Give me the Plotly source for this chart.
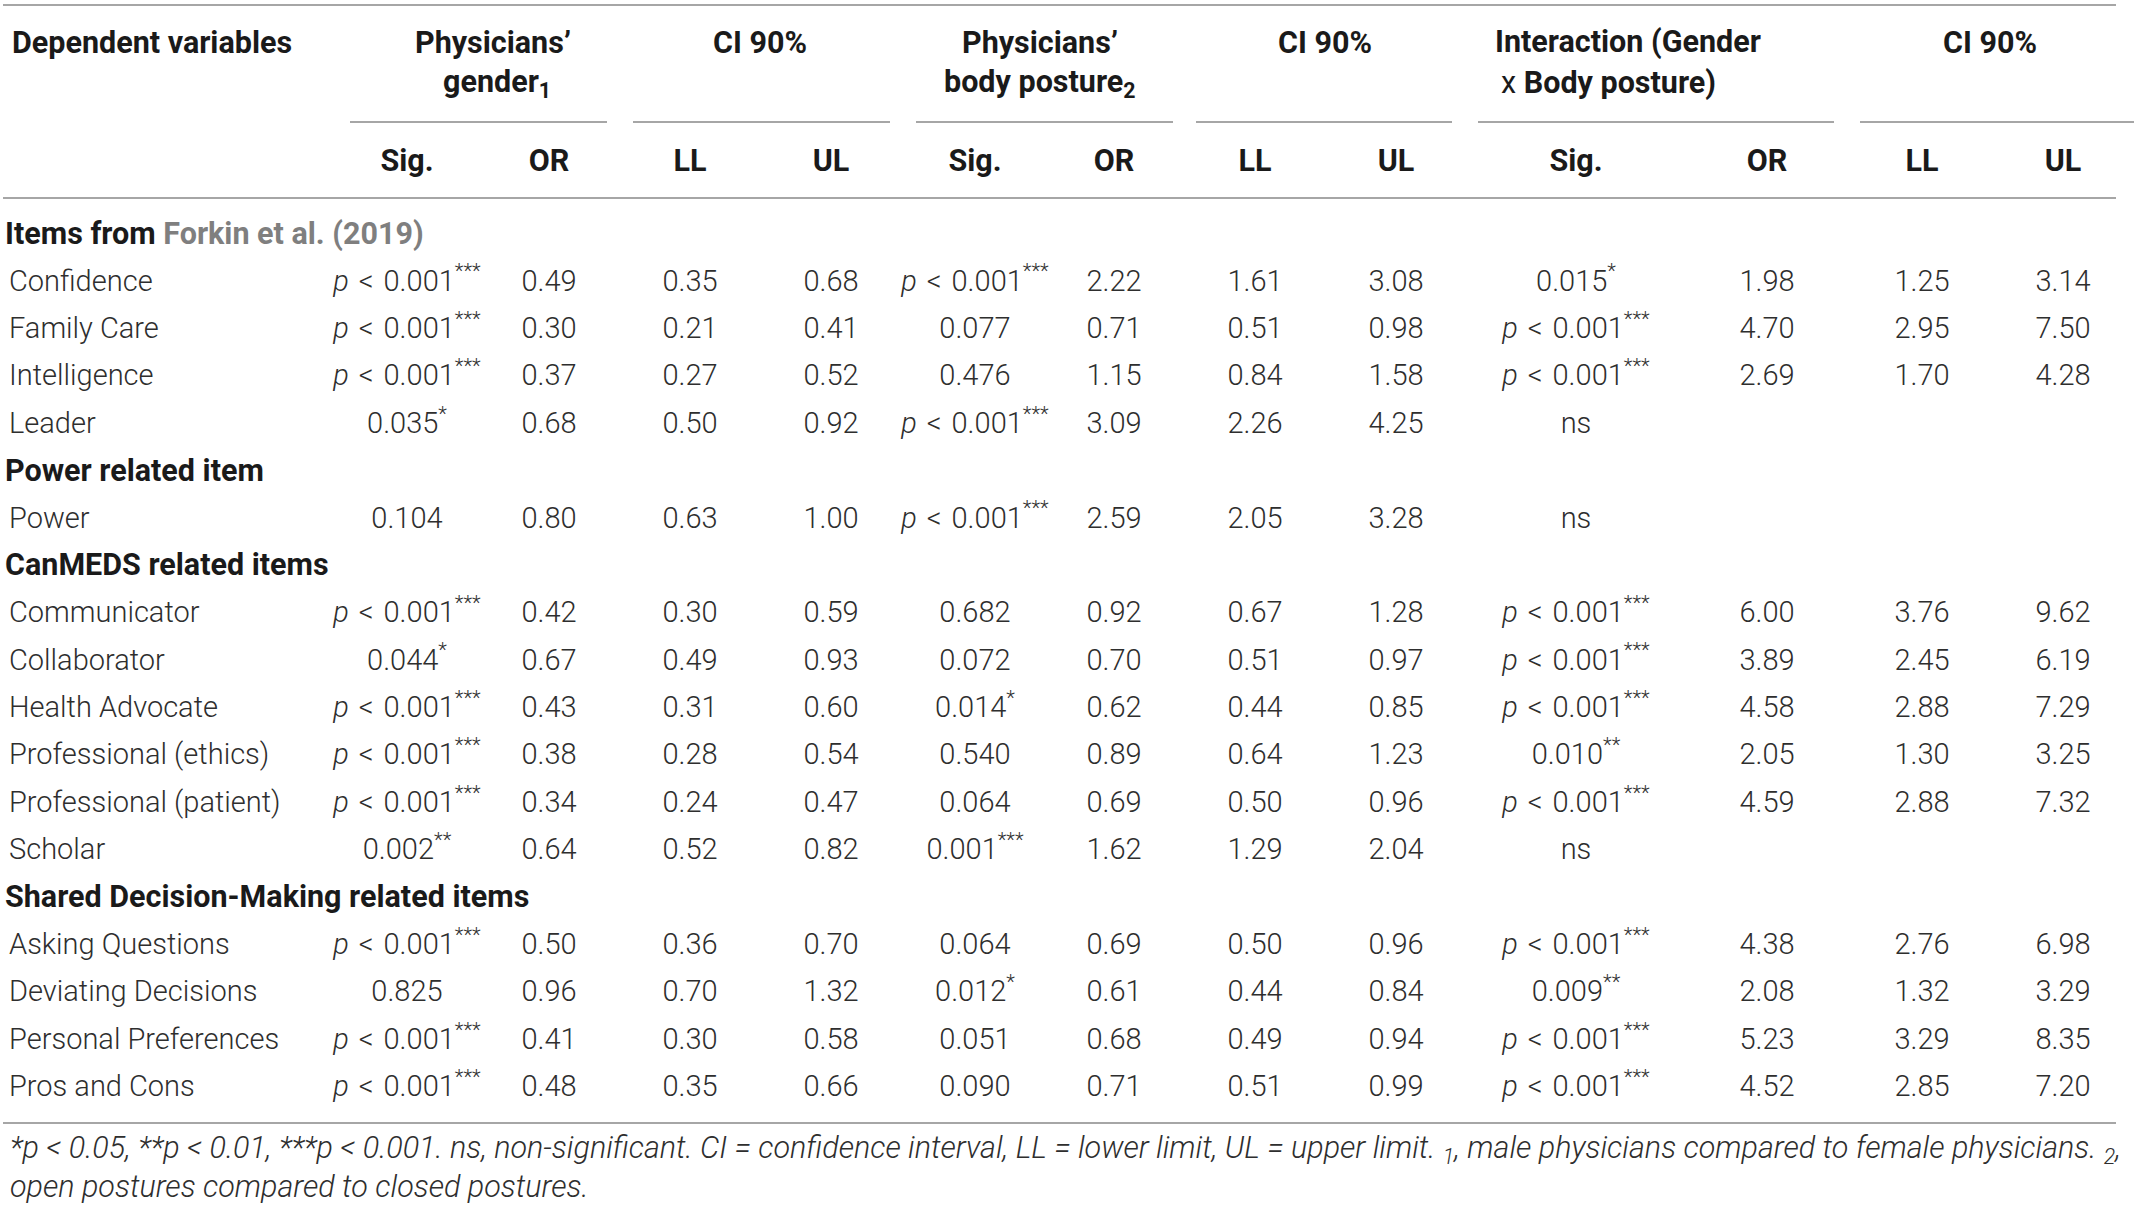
import plotly.graph_objects as go

# ---- table data ----
sections = ["Items from Forkin et al. (2019)", "Power related item",
            "CanMEDS related items", "Shared Decision-Making related items"]
section_sizes = [4, 1, 6, 4]

items = ["Confidence", "Family Care", "Intelligence", "Leader",
         "Power",
         "Communicator", "Collaborator", "Health Advocate", "Professional (ethics)",
         "Professional (patient)", "Scholar",
         "Asking Questions", "Deviating Decisions", "Personal Preferences", "Pros and Cons"]

gender_sig = ["<0.001***", "<0.001***", "<0.001***", "0.035*", "0.104", "<0.001***", "0.044*",
              "<0.001***", "<0.001***", "<0.001***", "0.002**", "<0.001***", "0.825",
              "<0.001***", "<0.001***"]
gender_or = [0.49, 0.30, 0.37, 0.68, 0.80, 0.42, 0.67, 0.43, 0.38, 0.34, 0.64, 0.50, 0.96, 0.41, 0.48]
gender_ll = [0.35, 0.21, 0.27, 0.50, 0.63, 0.30, 0.49, 0.31, 0.28, 0.24, 0.52, 0.36, 0.70, 0.30, 0.35]
gender_ul = [0.68, 0.41, 0.52, 0.92, 1.00, 0.59, 0.93, 0.60, 0.54, 0.47, 0.82, 0.70, 1.32, 0.58, 0.66]

posture_sig = ["<0.001***", "0.077", "0.476", "<0.001***", "<0.001***", "0.682", "0.072",
               "0.014*", "0.540", "0.064", "0.001***", "0.064", "0.012*", "0.051", "0.090"]
posture_or = [2.22, 0.71, 1.15, 3.09, 2.59, 0.92, 0.70, 0.62, 0.89, 0.69, 1.62, 0.69, 0.61, 0.68, 0.71]
posture_ll = [1.61, 0.51, 0.84, 2.26, 2.05, 0.67, 0.51, 0.44, 0.64, 0.50, 1.29, 0.50, 0.44, 0.49, 0.51]
posture_ul = [3.08, 0.98, 1.58, 4.25, 3.28, 1.28, 0.97, 0.85, 1.23, 0.96, 2.04, 0.96, 0.84, 0.94, 0.99]

inter_sig = ["0.015*", "<0.001***", "<0.001***", "ns", "ns", "<0.001***", "<0.001***",
             "<0.001***", "0.010**", "<0.001***", "ns", "<0.001***", "0.009**",
             "<0.001***", "<0.001***"]
inter_or = [1.98, 4.70, 2.69, None, None, 6.00, 3.89, 4.58, 2.05, 4.59, None, 4.38, 2.08, 5.23, 4.52]
inter_ll = [1.25, 2.95, 1.70, None, None, 3.76, 2.45, 2.88, 1.30, 2.88, None, 2.76, 1.32, 3.29, 2.85]
inter_ul = [3.14, 7.50, 4.28, None, None, 9.62, 6.19, 7.29, 3.25, 7.32, None, 6.98, 3.29, 8.35, 7.20]

sub_headers = ["Sig.", "OR", "LL", "UL"] * 3

footnote_lines = [
    "*p < 0.05, **p < 0.01, ***p < 0.001. ns, non-significant. CI = confidence interval, "
    "LL = lower limit, UL = upper limit. <sub>1</sub>, male physicians compared to female "
    "physicians. <sub>2</sub>,",
    "open postures compared to closed postures.",
]

# ---- layout (pixel space) ----
W, H = 2139, 1207
FONT = "Roboto"
TXT = "#2e2e2e"
HDR = "#1a1a1a"
LINE = "#a6a6a6"
FS = 29
FSB = 30.5

col_x = [407, 549, 690, 831, 975, 1114, 1255, 1396, 1576, 1767, 1922, 2063]
label_x = 9
row0, row_h = 236, 47.38


def fmt_sig(s):
    if s == "ns":
        return s
    stars = s.rstrip("*")
    star = s[len(stars):]
    if stars.startswith("<"):
        body = "<i>p</i>\u2004<\u2004" + stars[1:]
    else:
        body = stars
    return body + ("<sup>" + star + "</sup>" if star else "")


def fmt_num(v):
    return None if v is None else f"{v:.2f}"


# build row positions: section header then its items
section_y, item_y = [], []
r = 0
for n in section_sizes:
    section_y.append(row0 + r * row_h)
    r += 1
    for _ in range(n):
        item_y.append(row0 + r * row_h)
        r += 1

fig = go.Figure()

# row labels
fig.add_trace(go.Scatter(
    x=[label_x] * len(items), y=item_y, text=items, mode="text",
    textposition="middle right",
    textfont=dict(family=FONT, size=FS, color=TXT, weight=300),
    hoverinfo="skip", showlegend=False))

# section headers
sec_text = []
for s in sections:
    if "Forkin" in s:
        sec_text.append("<b>Items from </b><b><span style='color:#7f7f7f'>Forkin et al. (2019)</span></b>")
    else:
        sec_text.append("<b>" + s + "</b>")
fig.add_trace(go.Scatter(
    x=[5] * len(sections), y=section_y, text=sec_text, mode="text",
    textposition="middle right",
    textfont=dict(family=FONT, size=FSB, color=HDR),
    hoverinfo="skip", showlegend=False))

columns = [
    [fmt_sig(s) for s in gender_sig], [fmt_num(v) for v in gender_or],
    [fmt_num(v) for v in gender_ll], [fmt_num(v) for v in gender_ul],
    [fmt_sig(s) for s in posture_sig], [fmt_num(v) for v in posture_or],
    [fmt_num(v) for v in posture_ll], [fmt_num(v) for v in posture_ul],
    [fmt_sig(s) for s in inter_sig], [fmt_num(v) for v in inter_or],
    [fmt_num(v) for v in inter_ll], [fmt_num(v) for v in inter_ul],
]
for cx, col in zip(col_x, columns):
    ys = [y for y, t in zip(item_y, col) if t is not None]
    ts = [t for t in col if t is not None]
    fig.add_trace(go.Scatter(
        x=[cx] * len(ts), y=ys, text=ts, mode="text",
        textposition="middle center",
        textfont=dict(family=FONT, size=FS, color=TXT, weight=300),
        hoverinfo="skip", showlegend=False))

# sub header row
fig.add_trace(go.Scatter(
    x=col_x, y=[163] * len(col_x), text=["<b>" + t + "</b>" for t in sub_headers],
    mode="text", textposition="middle center",
    textfont=dict(family=FONT, size=FSB, color=HDR),
    hoverinfo="skip", showlegend=False))

hdr = dict(family=FONT, size=FSB, color=HDR)
L1, L2 = 42, 83
annotations = [
    dict(x=10, y=L1, text="<b>Dependent variables</b>", xanchor="left"),
    dict(x=493, y=L1, text="<b>Physicians’</b>", xanchor="center"),
    dict(x=497, y=L2, text="<b>gender<sub>1</sub></b>", xanchor="center"),
    dict(x=760, y=L1, text="<b>CI 90%</b>", xanchor="center"),
    dict(x=1040, y=L1, text="<b>Physicians’</b>", xanchor="center"),
    dict(x=1040, y=L2, text="<b>body posture<sub>2</sub></b>", xanchor="center"),
    dict(x=1325, y=L1, text="<b>CI 90%</b>", xanchor="center"),
    dict(x=1493, y=L1, text="<b>Interaction (Gender</b>", xanchor="left"),
    dict(x=1499, y=L2, text="x <b>Body posture)</b>", xanchor="left"),
    dict(x=1990, y=L1, text="<b>CI 90%</b>", xanchor="center"),
]
for a in annotations:
    a.update(xref="x", yref="y", yanchor="middle", showarrow=False, font=hdr)
for fy, line in zip([1149, 1186], footnote_lines):
    annotations.append(dict(x=8, y=fy, xref="x", yref="y", text="<i>" + line + "</i>",
                            xanchor="left", yanchor="middle", align="left", showarrow=False,
                            font=dict(family=FONT, size=30.5, color=TXT, weight=300)))

shapes = []
for y0 in (5, 198, 1123):
    shapes.append(dict(type="line", x0=3, x1=2116, y0=y0, y1=y0,
                       line=dict(color=LINE, width=2)))
for a0, a1 in [(350, 607), (633, 890), (916, 1173), (1196, 1452), (1478, 1834), (1860, 2134)]:
    shapes.append(dict(type="line", x0=a0, x1=a1, y0=122, y1=122,
                       line=dict(color=LINE, width=2)))
for s in shapes:
    s.update(xref="x", yref="y", layer="below")

fig.update_layout(
    width=W, height=H, margin=dict(l=0, r=0, t=0, b=0),
    paper_bgcolor="white", plot_bgcolor="white",
    xaxis=dict(range=[0, W], visible=False, fixedrange=True),
    yaxis=dict(range=[H, 0], visible=False, fixedrange=True),
    annotations=annotations, shapes=shapes, showlegend=False,
)

fig.write_html("out.html", config={"displayModeBar": False},
               post_script="document.body.style.margin='0';")
